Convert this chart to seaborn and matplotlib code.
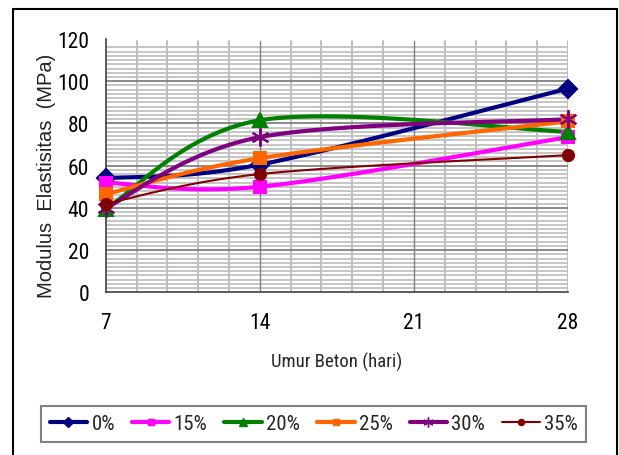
import numpy as np
import matplotlib
matplotlib.use("Agg")
import matplotlib.pyplot as plt
from matplotlib import font_manager
from matplotlib.lines import Line2D
from matplotlib.patches import Rectangle
import seaborn as sns

# Concrete age (days) and modulus of elasticity (MPa) per replacement level
umur = [7, 14, 28]
labels = ["0%", "15%", "20%", "25%", "30%", "35%"]
mod_0 = [54.0, 60.5, 96.5]
mod_15 = [52.0, 50.0, 73.5]
mod_20 = [39.5, 81.5, 76.0]
mod_25 = [46.5, 63.5, 81.0]
mod_30 = [40.0, 73.5, 82.0]
mod_35 = [42.0, 56.0, 65.0]
x_ticks = [7, 14, 21, 28]
y_ticks = [0, 20, 40, 60, 80, 100, 120]

series = [mod_0, mod_15, mod_20, mod_25, mod_30, mod_35]
colors = ["#000080", "#FF00FF", "#008000", "#FF6600", "#800080", "#800000"]
markers = ["D", "s", "^", "s", (6, 2, 0), "o"]
msizes = [9, 9, 10, 8.5, 13, 8]
lwidths = [3, 3, 3, 3, 3, 1.5]

sns.set_style("white")
names = {f.name for f in font_manager.fontManager.ttflist}
condensed = None
for cand in ["Liberation Sans Narrow", "DejaVu Sans Condensed", "Roboto Condensed",
             "Open Sans Condensed", "Noto Sans Condensed"]:
    if cand in names:
        condensed = cand
        break
base = condensed or "Liberation Sans"
plt.rcParams["font.family"] = [base, "DejaVu Sans"]
# text sizes depend on whether a condensed face exists
k = 1.0 if condensed else 0.8


def smooth_curve(xs, ys, n=60):
    """Cubic Bezier through the points, spreadsheet-style smoothing."""
    p = np.column_stack([xs, ys]).astype(float)
    out = []
    for i in range(len(p) - 1):
        p0 = p[i - 1] if i > 0 else p[i]
        p3 = p[i + 2] if i + 2 < len(p) else p[i + 1]
        c1 = p[i] + (p[i + 1] - p0) / 6.0
        c2 = p[i + 1] - (p3 - p[i]) / 6.0
        t = np.linspace(0, 1, n)[:, None]
        seg = ((1 - t) ** 3) * p[i] + 3 * ((1 - t) ** 2) * t * c1 \
            + 3 * (1 - t) * t ** 2 * c2 + t ** 3 * p[i + 1]
        out.append(seg if i == 0 else seg[1:])
    c = np.vstack(out)
    return c[:, 0], c[:, 1]


W, H = 619, 456
fig = plt.figure(figsize=(W / 100, H / 100), dpi=100)
ax = fig.add_axes([105.7 / W, 1 - 293.3 / H, (568 - 105.7) / W, (293.3 - 40) / H])

ax.set_xlim(7, 28)
ax.set_ylim(0, 120)

# grid: minor lines light grey, major darker
for yv in np.arange(2, 118, 2):
    if yv % 20:
        ax.axhline(yv, color="#c0c0c0", lw=1.3, zorder=0)
for yv in y_ticks[1:-1]:
    ax.axhline(yv, color="#808080", lw=1.3, zorder=0.5)
for xv in np.arange(7, 28.01, 1.4):
    if abs((xv - 7) % 7) > 1e-6 and abs((xv - 7) % 7 - 7) > 1e-6:
        ax.plot([xv, xv], [0, 119], color="#c0c0c0", lw=1.5, zorder=0)
for xv in x_ticks[1:-1]:
    ax.plot([xv, xv], [0, 119], color="#808080", lw=1.0, zorder=0.5)
ax.plot([28, 28], [0, 119], color="#c0c0c0", lw=1.5, zorder=0)

for ys, c, m, ms, lw in zip(series, colors, markers, msizes, lwidths):
    cx, cy = smooth_curve(umur, ys)
    sns.lineplot(x=cx, y=cy, sort=False, color=c, lw=lw, ax=ax, zorder=3)
    ax.plot(umur, ys, linestyle="none", marker=m, markersize=ms, color=c,
            markeredgecolor=c, markeredgewidth=1.5, zorder=4, clip_on=False)

for s in ["top", "right"]:
    ax.spines[s].set_visible(False)
for s in ["left", "bottom"]:
    ax.spines[s].set_color("#404040")
    ax.spines[s].set_linewidth(1.2)

ax.set_xticks(x_ticks)
ax.set_yticks(y_ticks)
ax.tick_params(axis="both", direction="out", length=5, width=1.2, color="#404040",
               labelsize=15.5 * k, labelcolor="black")
ax.tick_params(axis="x", pad=9)
ax.tick_params(axis="y", pad=7)
ax.set_xlabel("Umur Beton (hari)", fontsize=13.5 * k, labelpad=14)
fig.text(47 / W, 1 - 176 / H, "Modulus  Elastisitas  (MPa)", rotation=90,
         ha="center", va="center", fontsize=14.5, color="#222222",
         family=["Liberation Sans", "DejaVu Sans"])

handles = [Line2D([], [], color=c, lw=lw, marker=m, markersize=ms * 0.55,
                  markeredgecolor=c)
           for c, m, ms, lw in zip(colors, markers, msizes, lwidths)]
fs = 15 * k
leg = fig.legend(handles, labels, ncol=6, loc="center",
                 bbox_to_anchor=(313.7 / W, 1 - 425 / H), fontsize=fs,
                 frameon=True, fancybox=False, handlelength=1.8,
                 handletextpad=0.2, columnspacing=0.82, borderpad=0.4,
                 borderaxespad=0, edgecolor="#606060")
leg.get_frame().set_linewidth(1.5)

fig.patches.append(Rectangle((12.5 / W, -0.05), (616.5 - 12.5) / W, 1.05 - 10 / H,
                             transform=fig.transFigure, fill=False,
                             edgecolor="black", lw=1.5))

fig.savefig("out.png", dpi=100)
